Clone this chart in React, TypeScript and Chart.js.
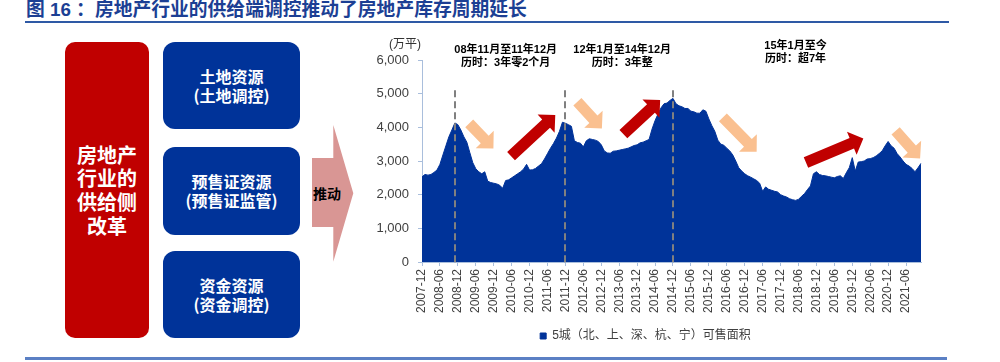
import React, { useEffect, useRef } from 'react';
import { Chart, registerables } from 'chart.js';

Chart.register(...registerables);

const LATIN_CJK = '"Liberation Sans", "Noto Sans CJK SC", sans-serif';
const CJK = '"Noto Sans CJK SC", "Liberation Sans", sans-serif';

// ---------- categories ----------
const firstYear = 2007;
const firstMonth = 12;
const monthCount = 168; // 2007-12 .. 2021-11
const months: string[] = Array.from({ length: monthCount }, (_, i) => {
  const t = firstYear * 12 + firstMonth - 1 + i;
  return `${Math.floor(t / 12)}-${String((t % 12) + 1).padStart(2, '0')}`;
});

const tickLabels = [
  '2007-12', '2008-06', '2008-12', '2009-06', '2009-12', '2010-06', '2010-12',
  '2011-06', '2011-12', '2012-06', '2012-12', '2013-06', '2013-12', '2014-06',
  '2014-12', '2015-06', '2015-12', '2016-06', '2016-12', '2017-06', '2017-12',
  '2018-06', '2018-12', '2019-06', '2019-12', '2020-06', '2020-12', '2021-06',
];

// ---------- series (万平) ----------
const inventory = [
  2530, 2600, 2580, 2600, 2660, 2730, 2900, 3180, 3450, 3720, 3920, 4130,
  4080, 3920, 3720, 3560, 3250, 2950, 2770, 2680, 2620, 2680, 2400, 2360,
  2340, 2320, 2280, 2190, 2420, 2440, 2500, 2560, 2620, 2680, 2760, 2900,
  2730, 2740, 2780, 2850, 2920, 3060, 3220, 3380, 3520, 3680, 3880, 4150,
  4120, 4080, 4030, 3600, 3550, 3530, 3420, 3600, 3660, 3640, 3620, 3580,
  3480, 3300, 3240, 3230, 3290, 3300, 3320, 3340, 3360, 3380, 3420, 3460,
  3480, 3540, 3560, 3600, 3640, 3950, 4200, 4400, 4580, 4700, 4720, 4800,
  4860, 4700, 4640, 4610, 4560, 4560, 4480, 4460, 4420, 4420, 4520, 4480,
  4250, 4050, 3880, 3620, 3500, 3470, 3380, 3300, 3180, 3000, 2800, 2700,
  2620, 2560, 2520, 2470, 2420, 2340, 2100, 2230, 2160, 2130, 2100, 2080,
  2000, 1960, 1930, 1880, 1850, 1830, 1860, 1950, 2030, 2150, 2260, 2620,
  2680, 2600, 2570, 2560, 2540, 2520, 2500, 2540, 2560, 2480, 2650, 2800,
  3100, 2700, 2970, 2980, 3000, 3060, 3070, 3100, 3150, 3220, 3300, 3450,
  3580, 3450, 3380, 3220, 3120, 3000, 2900, 2850, 2780, 2680, 2800, 2930,
];

const seriesName = '5城（北、上、深、杭、宁）可售面积';
const yUnit = '(万平)';
const yMin = 0;
const yMax = 6000;
const yStep = 1000;

// ---------- annotations ----------
const cycleBoundaries = ['2008-11', '2011-12', '2014-12'];
const boundaryTopValue = 5100;
const cycleNotes = [
  { at: '2010-04', lines: ['08年11月至11年12月', '历时：3年零2个月'], lift: 10 },
  { at: '2013-07', lines: ['12年1月至14年12月', '历时：3年整'], lift: 10 },
  { at: '2018-05', lines: ['15年1月至今', '历时：超7年'], lift: 14 },
];
// trend arrows in data coordinates: [index, value] -> [index, value]
const riseArrows = [
  { from: [29.8, 3144], to: [44.6, 4363] },
  { from: [67.4, 3798], to: [79.7, 4810] },
  { from: [128.5, 2957], to: [147.7, 3670] },
];
const fallArrows = [
  { from: [15.8, 4117], to: [23.9, 3373] },
  { from: [52.0, 4759], to: [60.2, 3968] },
  { from: [100.7, 4295], to: [112.0, 3272] },
  { from: [158.5, 3896], to: [166.7, 3076] },
];

const AREA_BLUE = '#003399';
const AXIS_BLUE = '#a9bedc';

function blockArrow(
  ctx: CanvasRenderingContext2D,
  x1: number, y1: number, x2: number, y2: number,
  shaft: number, head: number, headLen: number, color: string,
) {
  const dx = x2 - x1;
  const dy = y2 - y1;
  const len = Math.hypot(dx, dy);
  const ux = dx / len;
  const uy = dy / len;
  const nx = -uy;
  const ny = ux;
  const bx = x2 - ux * headLen;
  const by = y2 - uy * headLen;
  const pts = [
    [x1 + (nx * shaft) / 2, y1 + (ny * shaft) / 2],
    [bx + (nx * shaft) / 2, by + (ny * shaft) / 2],
    [bx + (nx * head) / 2, by + (ny * head) / 2],
    [x2, y2],
    [bx - (nx * head) / 2, by - (ny * head) / 2],
    [bx - (nx * shaft) / 2, by - (ny * shaft) / 2],
    [x1 - (nx * shaft) / 2, y1 - (ny * shaft) / 2],
  ];
  ctx.beginPath();
  pts.forEach(([px, py], i) => (i ? ctx.lineTo(px, py) : ctx.moveTo(px, py)));
  ctx.closePath();
  ctx.fillStyle = color;
  ctx.fill();
}

const overlayPlugin = {
  id: 'cycleOverlay',
  afterDatasetsDraw(chart: any) {
    const { ctx, chartArea, scales } = chart;
    const x = scales.x;
    const y = scales.y;
    ctx.save();
    // dashed cycle boundaries
    ctx.strokeStyle = '#808080';
    ctx.lineWidth = 2;
    ctx.setLineDash([7, 4]);
    cycleBoundaries.forEach((lab) => {
      const px = Math.round(x.getPixelForValue(months.indexOf(lab)));
      ctx.beginPath();
      ctx.moveTo(px, y.getPixelForValue(boundaryTopValue));
      ctx.lineTo(px, chartArea.bottom + 3);
      ctx.stroke();
    });
    ctx.setLineDash([]);
    // trend arrows
    fallArrows.forEach((a) => {
      blockArrow(ctx,
        x.getPixelForValue(a.from[0]), y.getPixelForValue(a.from[1]),
        x.getPixelForValue(a.to[0]), y.getPixelForValue(a.to[1]),
        11, 25, 12.5, '#fac090');
    });
    riseArrows.forEach((a) => {
      blockArrow(ctx,
        x.getPixelForValue(a.from[0]), y.getPixelForValue(a.from[1]),
        x.getPixelForValue(a.to[0]), y.getPixelForValue(a.to[1]),
        11.5, 25, 12.5, '#c00000');
    });
    // notes
    ctx.fillStyle = '#000';
    ctx.font = `bold 11px ${LATIN_CJK}`;
    ctx.textAlign = 'center';
    ctx.textBaseline = 'middle';
    cycleNotes.forEach((n) => {
      const px = x.getPixelForValue(months.indexOf(n.at));
      n.lines.forEach((line, i) => {
        ctx.fillText(line, px, chartArea.top - n.lift + i * 12.5);
      });
    });
    // unit
    ctx.fillStyle = '#333';
    ctx.font = `12px ${LATIN_CJK}`;
    ctx.textAlign = 'right';
    ctx.fillText(yUnit, chartArea.left - 1, chartArea.top - 15);
    ctx.restore();
  },
};

function InventoryChart() {
  const ref = useRef<HTMLCanvasElement | null>(null);
  useEffect(() => {
    if (!ref.current) return;
    const chart = new Chart(ref.current, {
      type: 'line',
      data: {
        labels: months,
        datasets: [
          {
            label: seriesName,
            data: inventory,
            fill: 'origin',
            backgroundColor: AREA_BLUE,
            borderColor: AREA_BLUE,
            borderWidth: 1,
            pointRadius: 0,
            tension: 0,
          },
        ],
      },
      options: {
        animation: false,
        responsive: false,
        maintainAspectRatio: false,
        events: [],
        layout: { padding: { top: 30, right: 79, left: 0, bottom: 0 } },
        scales: {
          x: {
            type: 'category',
            offset: false,
            grid: { display: true, drawOnChartArea: false, drawTicks: true, tickLength: 4, color: AXIS_BLUE },
            border: { display: true, color: AXIS_BLUE },
            ticks: {
              autoSkip: false,
              minRotation: 90,
              maxRotation: 90,
              padding: 3,
              color: '#404040',
              font: { family: LATIN_CJK, size: 12 },
              callback: (_v: any, i: number) => (tickLabels.includes(months[i]) ? months[i] : null),
            },
            afterFit: (s: any) => {
              s.height = 58;
            },
          },
          y: {
            min: yMin,
            max: yMax,
            grid: { display: true, drawOnChartArea: false, drawTicks: true, tickLength: 4, color: AXIS_BLUE },
            border: { display: true, color: AXIS_BLUE },
            ticks: {
              stepSize: yStep,
              padding: 9,
              color: '#404040',
              font: { family: LATIN_CJK, size: 13 },
              callback: (v: any) => Number(v).toLocaleString('en-US'),
            },
            afterFit: (s: any) => {
              s.width = 52;
            },
          },
        },
        plugins: {
          legend: {
            position: 'bottom',
            labels: {
              boxWidth: 6,
              boxHeight: 6,
              padding: 10,
              color: '#404040',
              font: { family: LATIN_CJK, size: 12 },
            },
          },
          tooltip: { enabled: false },
        },
      },
      plugins: [overlayPlugin],
    } as any);
    return () => chart.destroy();
  }, []);
  return (
    <canvas
      ref={ref}
      width={630}
      height={322}
      style={{ position: 'absolute', left: 370, top: 30, width: 630, height: 322 }}
    />
  );
}

const boxText: React.CSSProperties = {
  position: 'absolute',
  color: '#fff',
  fontWeight: 700,
  fontFamily: CJK,
  display: 'flex',
  flexDirection: 'column',
  alignItems: 'center',
  justifyContent: 'center',
  textAlign: 'center',
};

const blueBoxes = [
  { top: 42, height: 87, lines: ['土地资源', '(土地调控)'] },
  { top: 147, height: 88, lines: ['预售证资源', '(预售证监管)'] },
  { top: 251, height: 87, lines: ['资金资源', '(资金调控)'] },
];

export default function App() {
  return (
    <div
      style={{
        position: 'absolute',
        left: 0,
        top: 0,
        width: 1000,
        height: 362,
        background: '#fff',
        overflow: 'hidden',
        fontFamily: LATIN_CJK,
      }}
    >
      <div
        style={{
          position: 'absolute',
          left: 26,
          top: -1,
          fontSize: 18.8,
          lineHeight: '22px',
          fontWeight: 700,
          color: '#1c3f94',
          whiteSpace: 'nowrap',
          fontFamily: LATIN_CJK,
        }}
      >
        图 16 ：房地产行业的供给端调控推动了房地产库存周期延长
      </div>
      <div style={{ position: 'absolute', left: 25, top: 21, width: 924, height: 2, background: '#2e59a5' }} />

      <div
        style={{
          ...boxText,
          left: 65,
          top: 42,
          width: 84,
          height: 296,
          borderRadius: 10,
          background: '#c00000',
          fontSize: 20,
          lineHeight: '23.6px',
        }}
      >
        <div>房地产</div>
        <div>行业的</div>
        <div>供给侧</div>
        <div>改革</div>
      </div>

      {blueBoxes.map((b) => (
        <div
          key={b.lines[0]}
          style={{
            ...boxText,
            left: 163,
            top: b.top,
            width: 137,
            height: b.height,
            borderRadius: 12,
            background: AREA_BLUE,
            fontSize: 16,
            lineHeight: '19px',
          }}
        >
          {b.lines.map((l) => (
            <div key={l}>{l}</div>
          ))}
        </div>
      ))}

      <svg style={{ position: 'absolute', left: 0, top: 0 }} width={1000} height={362}>
        <polygon
          points="312,158 333.3,158 333.3,125 353.3,193.3 333.3,261.7 333.3,227 312,227"
          fill="#d99694"
        />
      </svg>
      <div
        style={{
          position: 'absolute',
          left: 307,
          top: 183,
          width: 40,
          height: 20,
          lineHeight: '20px',
          textAlign: 'center',
          fontSize: 14,
          fontWeight: 700,
          color: '#000',
          fontFamily: CJK,
        }}
      >
        推动
      </div>

      <InventoryChart />

      <div style={{ position: 'absolute', left: 25, top: 357, width: 922, height: 3, background: '#5b80c4' }} />
    </div>
  );
}
